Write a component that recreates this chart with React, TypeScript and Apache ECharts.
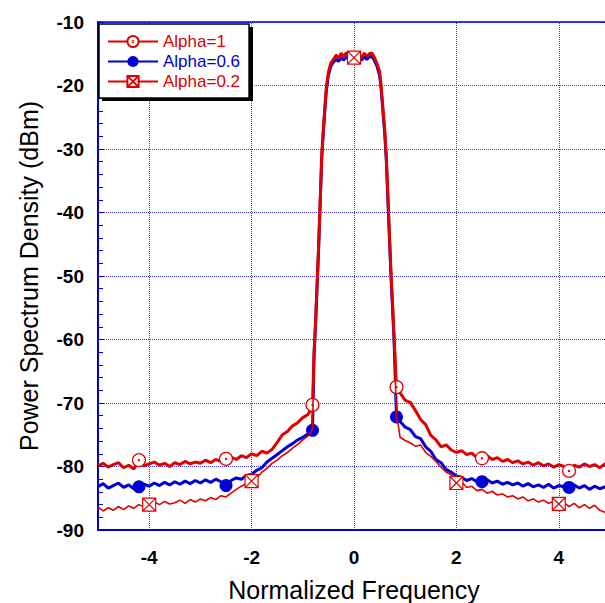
import React, { useEffect, useRef } from "react";
import * as echarts from "echarts";

// ---- data ----
const freqLeft = [-5, -4.9, -4.8, -4.7, -4.6, -4.5, -4.4, -4.3, -4.2, -4.1, -4, -3.9, -3.8, -3.7, -3.6, -3.5, -3.4, -3.3, -3.2, -3.1, -3, -2.9, -2.8, -2.7, -2.6, -2.5, -2.4, -2.3, -2.2, -2.1, -2, -1.9, -1.8, -1.7, -1.6, -1.5, -1.4, -1.3, -1.2, -1.1, -1, -0.9];
const freqMid = [-0.85, -0.81, -0.78, -0.75, -0.72, -0.69, -0.66, -0.63, -0.6, -0.57, -0.54, -0.5, -0.45, -0.4, -0.35, -0.3, -0.25, -0.2, -0.15, -0.1, -0.05, 0, 0.05, 0.1, 0.15, 0.2, 0.25, 0.3, 0.35, 0.4, 0.45, 0.5, 0.53, 0.56, 0.6, 0.63, 0.66, 0.69, 0.72, 0.75, 0.78, 0.83, 0.86];
const freqRight = [0.9, 1, 1.1, 1.2, 1.3, 1.4, 1.5, 1.6, 1.7, 1.8, 1.9, 2, 2.1, 2.2, 2.3, 2.4, 2.5, 2.6, 2.7, 2.8, 2.9, 3, 3.1, 3.2, 3.3, 3.4, 3.5, 3.6, 3.7, 3.8, 3.9, 4, 4.1, 4.2, 4.3, 4.4, 4.5, 4.6, 4.7, 4.8, 4.9, 5];

const alpha1Left = [-79.9, -79.5, -80.1, -79.7, -79.4, -80.2, -79.8, -80.4, -79.0, -79.9, -79.6, -79.3, -79.8, -79.5, -80.0, -79.4, -79.7, -79.2, -79.6, -79.3, -79.5, -79.0, -79.4, -78.9, -79.2, -78.8, -78.5, -78.9, -78.3, -78.6, -78.0, -78.3, -77.6, -77.9, -77.3, -76.2, -75.0, -74.5, -73.6, -73.1, -72.3, -71.8];
const alpha1Mid = [-71.2, -70.3, -62, -57, -51, -45, -38, -31, -27, -23.5, -20.2, -17.9, -16.4, -15.9, -15.3, -15.7, -14.9, -15.5, -14.8, -15.4, -15.7, -15.5, -15.8, -15.3, -15.6, -14.9, -15.4, -15.0, -14.9, -15.6, -16.6, -17.8, -20, -23, -27, -31, -37, -43, -49, -54, -59, -67.5, -68.0];
const alpha1Right = [-68.4, -69.6, -69.9, -71.2, -72.6, -73.4, -75.1, -75.8, -76.9, -76.6, -77.4, -77.8, -77.5, -78.1, -77.9, -78.6, -78.7, -78.3, -78.9, -78.6, -79.2, -78.9, -79.4, -79.1, -79.6, -79.3, -79.8, -79.4, -79.9, -79.6, -80.1, -79.7, -80.0, -80.7, -79.8, -80.1, -79.6, -80.0, -79.7, -80.2, -79.6, -79.9];

const alpha06Left = [-83.2, -82.7, -83.4, -83.0, -82.6, -83.3, -82.9, -83.5, -83.2, -82.8, -83.1, -82.6, -83.0, -82.5, -82.9, -82.4, -82.8, -82.3, -82.7, -82.2, -82.6, -82.1, -82.5, -82.0, -82.4, -83.0, -82.2, -81.8, -82.0, -81.4, -81.2, -80.6, -80.2, -79.3, -78.7, -78.1, -77.5, -76.9, -76.4, -75.8, -75.4, -74.9];
const alpha06Mid = [-74.5, -74.3, -62.5, -57.5, -51.5, -45.5, -38.5, -31.5, -27.5, -24, -20.8, -18.4, -16.9, -16.3, -15.9, -16.2, -15.6, -16.0, -15.4, -15.9, -16.1, -15.8, -16.2, -15.7, -16.0, -15.4, -15.9, -15.5, -15.4, -16.1, -17.0, -18.4, -20.6, -23.6, -27.6, -31.6, -37.6, -43.6, -49.6, -54.6, -59.6, -72.2, -72.6];
const alpha06Right = [-72.9, -73.8, -74.2, -75.3, -75.6, -76.9, -77.6, -78.9, -79.4, -80.5, -80.9, -81.5, -81.7, -82.2, -81.9, -82.4, -82.4, -82.1, -82.6, -82.3, -82.8, -82.5, -82.9, -82.6, -83.1, -82.7, -83.2, -82.9, -83.3, -82.8, -83.4, -83.0, -83.2, -83.3, -82.9, -83.4, -83.0, -83.6, -83.1, -83.5, -83.2, -83.6];

const alpha02Left = [-86.4, -87.0, -86.5, -86.9, -86.3, -86.8, -86.2, -86.6, -86.0, -86.4, -86.0, -85.6, -86.0, -85.5, -85.9, -85.7, -85.3, -85.8, -85.2, -85.6, -85.1, -85.4, -84.9, -85.2, -84.6, -84.8, -84.2, -83.6, -83.1, -82.7, -82.3, -81.8, -80.9, -80.3, -79.5, -79.0, -78.3, -77.8, -77.1, -76.5, -75.8, -75.2];
const alpha02Mid = [-74.8, -74.0, -62.2, -57.2, -51.2, -45.2, -38.2, -31.2, -27.2, -23.7, -20.4, -18.0, -16.5, -15.8, -15.1, -15.6, -15.0, -15.7, -15.0, -15.5, -15.9, -15.6, -15.9, -15.1, -15.7, -15.0, -15.3, -15.1, -14.8, -15.7, -16.7, -17.9, -20.2, -23.2, -27.2, -31.2, -37.2, -43.2, -49.2, -54.2, -59.2, -72.5, -73.2];
const alpha02Right = [-75.4, -75.9, -76.3, -76.8, -76.6, -77.8, -78.4, -79.2, -80.1, -80.9, -81.3, -82.6, -82.4, -83.3, -83.1, -83.8, -83.6, -84.2, -83.9, -84.5, -84.3, -84.8, -84.6, -85.1, -84.8, -85.4, -85.1, -85.6, -85.3, -85.8, -85.5, -85.9, -85.7, -86.3, -85.8, -86.5, -86.0, -86.6, -86.1, -86.9, -87.2, -87.8];

const circleAt = [-4.2, -2.5, -0.81, 0.83, 2.5, 4.2];
const dotAt = [-4.2, -2.5, -0.81, 0.83, 2.5, 4.2];
const crossAt = [-4, -2, 0, 2, 4];
const xGridLines = [-4, -2, 0, 2, 4];

const seriesNames = ["Alpha=1", "Alpha=0.6", "Alpha=0.2"];

const RED = "#e00000";
const BLUE = "#0000d8";
const GRID = "#3a3ae6";
const FONT = "Liberation Sans, Arial, sans-serif";

const freq = [...freqLeft, ...freqMid, ...freqRight];
const alpha1 = [...alpha1Left, ...alpha1Mid, ...alpha1Right];
const alpha06 = [...alpha06Left, ...alpha06Mid, ...alpha06Right];
const alpha02 = [...alpha02Left, ...alpha02Mid, ...alpha02Right];

function build(vals: number[], marks: number[]) {
  return freq.map((x, i) =>
    marks.includes(x) ? { value: [x, vals[i]] } : { value: [x, vals[i]], symbol: "none" }
  );
}

const circleDot =
  "path://M10,0A10,10,0,1,1,10,20A10,10,0,1,1,10,0Z M10,9.2A0.8,0.8,0,1,1,10,10.8A0.8,0.8,0,1,1,10,9.2Z";
const crossBox = "path://M0,0L10,0L10,10L0,10Z M0,0L10,10 M10,0L0,10";

export default function App() {
  const ref = useRef<HTMLDivElement>(null);
  useEffect(() => {
    document.body.style.margin = "0";
    const chart = echarts.init(ref.current!, null, { renderer: "svg" });
    const tickLabel = { fontFamily: FONT, fontWeight: "bold" as const, fontSize: 19, color: "#000" };
    chart.setOption({
      animation: false,
      backgroundColor: "#fff",
      grid: { left: 98, width: 512, top: 22, bottom: 73, outerBoundsMode: "none", containLabel: false },
      graphic: [
        { type: "rect", shape: { x: 102, y: 27, width: 151, height: 74 }, style: { fill: "#000" }, z: 10 },
      ],
      legend: {
        data: [
          { name: seriesNames[0], textStyle: { color: RED } },
          { name: seriesNames[1], textStyle: { color: BLUE } },
          { name: seriesNames[2], textStyle: { color: RED } },
        ],
        orient: "vertical",
        left: 99,
        top: 24,
        padding: [9, 9, 8, 8],
        itemGap: 3,
        itemWidth: 50,
        itemHeight: 14,
        backgroundColor: "#fff",
        borderColor: "#000",
        borderWidth: 1.5,
        borderRadius: 0,
        textStyle: { fontFamily: FONT, fontSize: 17, padding: [0, 0, 0, 0] },
        z: 20,
      },
      xAxis: [
        {
          type: "value",
          min: -5,
          max: 5,
          interval: 1,
          position: "bottom",
          name: "Normalized Frequency",
          nameLocation: "middle",
          nameGap: 47,
          nameTextStyle: { fontFamily: FONT, fontSize: 25, color: "#000" },
          axisLine: { show: true, onZero: false, lineStyle: { color: BLUE, width: 2 } },
          axisTick: { show: false },
          splitLine: { show: false },
          axisLabel: {
            ...tickLabel,
            margin: 18,
            formatter: (v: number) => (xGridLines.includes(v) ? String(v) : ""),
          },
        },
        {
          type: "value",
          min: -5,
          max: 5,
          position: "top",
          axisLine: { show: true, onZero: false, lineStyle: { color: BLUE, width: 1.5 } },
          axisTick: { show: false },
          axisLabel: { show: false },
          splitLine: { show: false },
        },
      ],
      yAxis: [
        {
          type: "value",
          min: -90,
          max: -10,
          interval: 10,
          position: "left",
          name: "Power Spectrum Density (dBm)",
          nameLocation: "middle",
          nameGap: 57,
          nameTextStyle: { fontFamily: FONT, fontSize: 25, color: "#000" },
          axisLine: { show: true, onZero: false, lineStyle: { color: BLUE, width: 2 } },
          axisTick: { show: true, inside: true, length: 6, lineStyle: { color: BLUE } },
          minorTick: { show: true, splitNumber: 5, length: 5, lineStyle: { color: BLUE } },
          axisLabel: { ...tickLabel, margin: 14 },
          splitLine: { show: true, lineStyle: { color: GRID, type: "dotted", width: 1 } },
        },
        {
          type: "value",
          min: -90,
          max: -10,
          interval: 10,
          position: "right",
          axisLine: { show: true, onZero: false, lineStyle: { color: BLUE, width: 2 } },
          axisTick: { show: true, inside: true, length: 6, lineStyle: { color: BLUE } },
          minorTick: { show: true, splitNumber: 5, length: 5, lineStyle: { color: BLUE } },
          axisLabel: { show: false },
          splitLine: { show: false },
        },
      ],
      series: [
        {
          name: "grid",
          type: "line",
          data: [],
          silent: true,
          z: 1,
          markLine: {
            silent: true,
            symbol: ["none", "none"],
            label: { show: false },
            lineStyle: { color: GRID, type: "dotted", width: 1 },
            data: xGridLines.map((v) => ({ xAxis: v })),
          },
        },
        {
          name: seriesNames[1],
          type: "line",
          z: 3,
          data: build(alpha06, dotAt),
          showSymbol: true,
          showAllSymbol: true,
          symbol: "circle",
          symbolSize: 13,
          itemStyle: { color: BLUE },
          lineStyle: { color: BLUE, width: 3 },
        },
        {
          name: seriesNames[0],
          type: "line",
          z: 4,
          data: build(alpha1, circleAt),
          showSymbol: true,
          showAllSymbol: true,
          symbol: circleDot,
          symbolSize: 13,
          itemStyle: { color: "#fff", borderColor: RED, borderWidth: 1.3 },
          lineStyle: { color: RED, width: 3 },
        },
        {
          name: seriesNames[2],
          type: "line",
          z: 5,
          data: build(alpha02, crossAt),
          showSymbol: true,
          showAllSymbol: true,
          symbol: crossBox,
          symbolSize: 13,
          itemStyle: { color: "#fff", borderColor: RED, borderWidth: 1.2 },
          lineStyle: { color: RED, width: 1.6 },
        },
      ],
    });
    return () => chart.dispose();
  }, []);
  return <div ref={ref} style={{ width: 605, height: 603 }} />;
}
